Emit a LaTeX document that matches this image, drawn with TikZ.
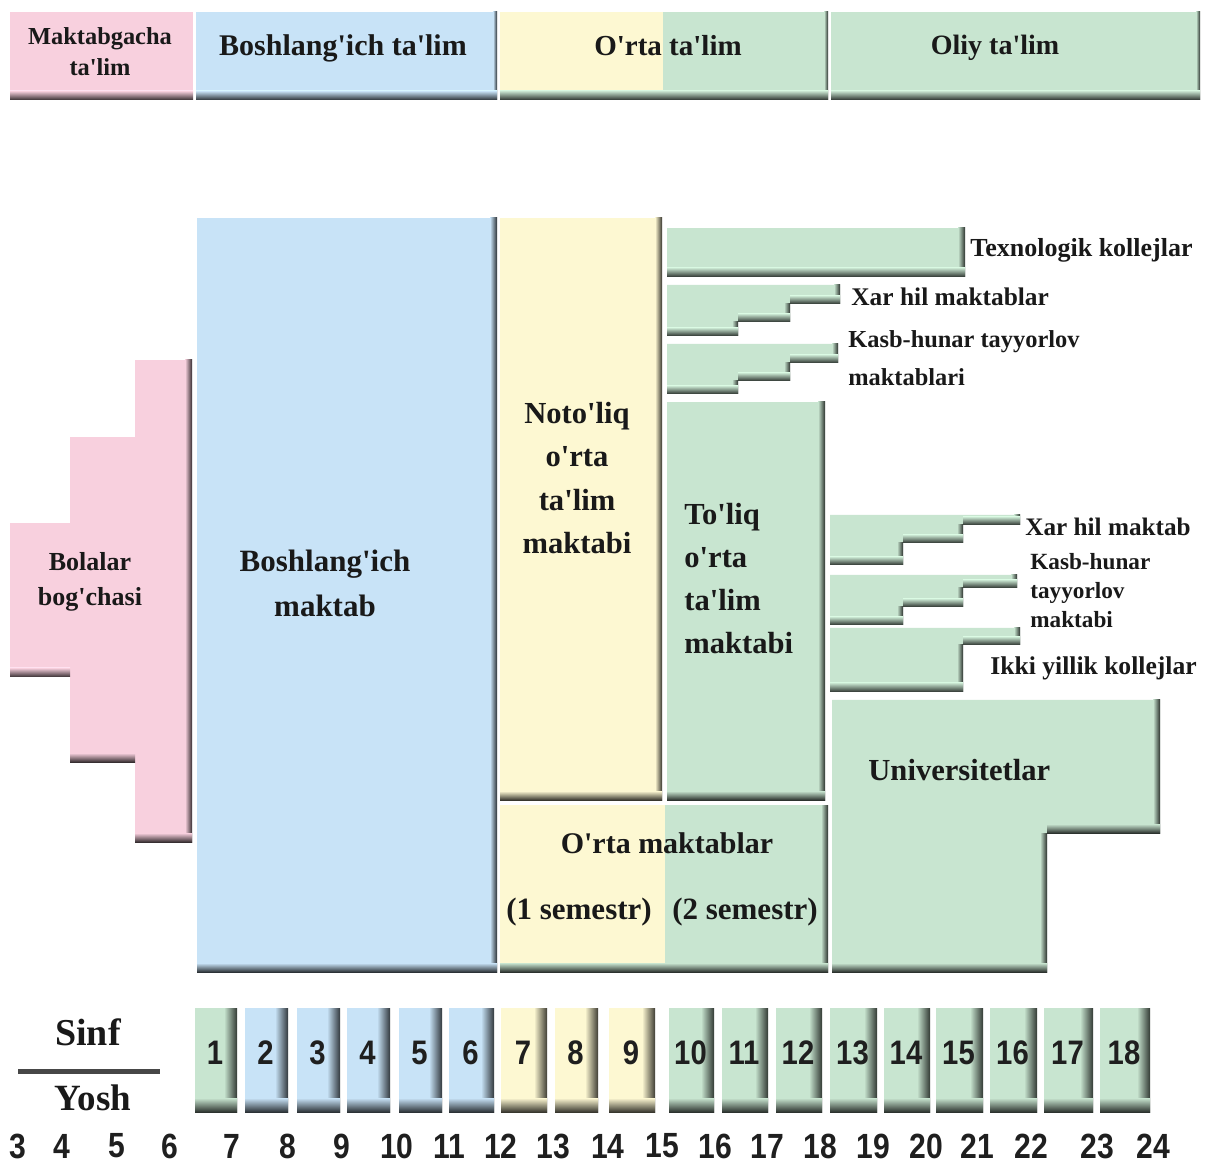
\documentclass[tikz,border=0pt]{standalone}
\usepackage{fontspec}
\setmainfont{Liberation Serif}[Ligatures=TeXOff]
\newfontfamily\numfont{Liberation Sans}[FakeStretch=0.86]
\definecolor{cpink}{HTML}{F8D0DE}
\definecolor{cblue}{HTML}{C8E3F7}
\definecolor{cyel}{HTML}{FDF8D2}
\definecolor{cgrn}{HTML}{C8E5D0}
% right strip: x, y1, y2, colour, width
\newcommand\rs[5]{\shade[left color=#4, right color=#4!22!black] (#1-#5,#2) rectangle (#1,#3);}
% bottom strip: x1, x2, y, colour, height
\newcommand\bs[5]{\shade[top color=#4, bottom color=#4!22!black] (#1,#3-#5) rectangle (#2,#3);}
% plain bevelled box
\newcommand\bbox[5]{\fill[#5] (#1,#2) rectangle (#3,#4);\rs{#3}{#2}{#4}{#5}{7}\bs{#1}{#3}{#4}{#5}{9}}
% three-step staircase
\newcommand\stairs[8]{%
 \fill[cgrn] (#1,#2) -| (#3,#4) -| (#5,#6) -| (#7,#8) -| (#1,#2) -- cycle;
 \rs{#3}{#2}{#4}{cgrn}{6}\bs{#5}{#3}{#4}{cgrn}{8}%
 \rs{#5}{#4}{#6}{cgrn}{6}\bs{#7}{#5}{#6}{cgrn}{8}%
 \rs{#7}{#6}{#8}{cgrn}{6}\bs{#1}{#7}{#8}{cgrn}{8}}
\begin{document}
\begin{tikzpicture}[x=0.5pt,y=-0.5pt,
  txt/.style={inner sep=0pt, text=black!90},
  gnum/.style={inner sep=0pt, font=\numfont\bfseries\fontsize{17}{17}\selectfont, text=black!88},
  anum/.style={inner sep=0pt, font=\numfont\bfseries\fontsize{17.5}{17.5}\selectfont, text=black!88}]
\useasboundingbox (0,0) rectangle (1206,1171);
\fill[white] (0,0) rectangle (1206,1171);

% ---------- header ----------
\fill[cpink] (10,12) rectangle (193,100); \bs{10}{193}{100}{cpink}{9}
\fill[cblue] (196,12) rectangle (497,100); \rs{497}{12}{100}{cblue}{4}\bs{196}{497}{100}{cblue}{9}
\fill[cyel] (500,12) rectangle (663,100);
\fill[cgrn] (663,12) rectangle (828,100); \rs{828}{12}{100}{cgrn}{4}\bs{500}{828}{100}{cgrn}{9}
\fill[cgrn] (831,12) rectangle (1200,100); \rs{1200}{12}{100}{cgrn}{4}\bs{831}{1200}{100}{cgrn}{9}

\node[txt, align=center, font=\bfseries\fontsize{12.2}{15.5}\selectfont] (h1) at (100,52) {Maktabgacha\\ta'lim};
\node[txt, font=\bfseries\fontsize{15}{18}\selectfont] (h2) at (343,48) {Boshlang'ich ta'lim};
\node[txt, font=\bfseries\fontsize{14.5}{18}\selectfont] (h3) at (668,46) {O'rta ta'lim};
\node[txt, font=\bfseries\fontsize{14}{18}\selectfont] (h4) at (995,48) {Oliy ta'lim};

% ---------- kindergarten ----------
\fill[cpink] (10,523) rectangle (72,677);
\fill[cpink] (70,437) rectangle (137,762);
\fill[cpink] (135,360) rectangle (192,842);
\bs{10}{70}{677}{cpink}{9}
\bs{70}{135}{762}{cpink}{9}
\rs{192}{360}{842}{cpink}{7}
\bs{135}{192}{842}{cpink}{9}
\node[txt, align=center, font=\bfseries\fontsize{13}{17.5}\selectfont] (bog) at (90,582) {Bolalar\\bog'chasi};

% ---------- primary school ----------
\bbox{197}{218}{497}{972}{cblue}
\node[txt, align=center, font=\bfseries\fontsize{15.5}{22.5}\selectfont] (bosh) at (325,583) {Boshlang'ich\\maktab};

% ---------- incomplete secondary ----------
\bbox{500}{218}{662}{800}{cyel}
\node[txt, align=center, font=\bfseries\fontsize{15.3}{21.75}\selectfont] (noto) at (577,478) {Noto'liq\\o'rta\\ta'lim\\maktabi};

% ---------- complete secondary ----------
\bbox{667}{402}{825}{800}{cgrn}
\node[txt, align=left, anchor=west, font=\bfseries\fontsize{15.3}{21.5}\selectfont] (toliq) at (684,579) {To'liq\\o'rta\\ta'lim\\maktabi};

% ---------- middle schools ----------
\fill[cyel] (500,805) rectangle (665,972);
\fill[cgrn] (665,805) rectangle (828,972);
\rs{828}{805}{972}{cgrn}{7}\bs{500}{828}{972}{cgrn}{9}
\node[txt, font=\bfseries\fontsize{15}{18}\selectfont] (om) at (667,843) {O'rta maktablar};
\node[txt, font=\bfseries\fontsize{15.5}{18}\selectfont] (s1) at (579,912) {(1 semestr)};
\node[txt, font=\bfseries\fontsize{15.5}{18}\selectfont] (s2) at (745,912) {(2 semestr)};

% ---------- upper right branches ----------
\bbox{667}{228}{965}{277}{cgrn}
\stairs{667}{285}{840}{304}{790}{322}{738}{336}
\stairs{667}{344}{838}{363}{790}{381}{738}{394}
\node[txt, anchor=west, font=\bfseries\fontsize{13}{16}\selectfont] (tex) at (970,250) {Texnologik kollejlar};
\node[txt, anchor=west, font=\bfseries\fontsize{12.7}{16}\selectfont] (xar1) at (851,297) {Xar hil maktablar};
\node[txt, anchor=west, align=left, font=\bfseries\fontsize{12.2}{19}\selectfont] (kasb1) at (848,358) {Kasb-hunar tayyorlov\\maktablari};

% ---------- lower right branches ----------
\stairs{830}{515}{1020}{525}{963}{543}{903}{565}
\stairs{830}{575}{1017}{588}{963}{607}{903}{625}
\fill[cgrn] (830,628) -| (1020,645) -| (963,692) -| (830,628) -- cycle;
\rs{1020}{628}{645}{cgrn}{6}\bs{963}{1020}{645}{cgrn}{8}
\rs{963}{645}{692}{cgrn}{6}\bs{830}{963}{692}{cgrn}{9}
\node[txt, anchor=west, font=\bfseries\fontsize{12.6}{16}\selectfont] (xar2) at (1025,527) {Xar hil maktab};
\node[txt, anchor=west, align=left, font=\bfseries\fontsize{11.6}{14.5}\selectfont] (kasb2) at (1030,591) {Kasb-hunar\\tayyorlov\\maktabi};
\node[txt, anchor=west, font=\bfseries\fontsize{12.8}{16}\selectfont] (ikki) at (990,668) {Ikki yillik kollejlar};

% ---------- universities ----------
\fill[cgrn] (832,700) -| (1160,833) -| (1047,972) -| (832,700) -- cycle;
\rs{1160}{700}{833}{cgrn}{7}\bs{1047}{1160}{833}{cgrn}{9}
\rs{1047}{833}{972}{cgrn}{7}\bs{832}{1047}{972}{cgrn}{9}
\node[txt, anchor=west, font=\bfseries\fontsize{15.3}{18}\selectfont] (univ) at (868,770) {Universitetlar};

% ---------- Sinf / Yosh ----------
\node[txt, font=\bfseries\fontsize{19}{20}\selectfont] (sinf) at (88,1032) {Sinf};
\coordinate (ls) at (18,1071);
\coordinate (le) at (160,1071);
\draw[line width=2.5pt, black!72] (ls) -- (le);
\node[txt, font=\bfseries\fontsize{18.5}{20}\selectfont] (yosh) at (93,1098) {Yosh};

% ---------- grade boxes ----------
\foreach \n/\a/\b/\c in {1/195/237/cgrn, 2/245/288/cblue, 3/297/340/cblue, 4/347/390/cblue,
   5/399/442/cblue, 6/449/494/cblue, 7/501/547/cyel, 8/555/598/cyel, 9/609/655/cyel,
   10/669/714/cgrn, 11/722/768/cgrn, 12/776/822/cgrn, 13/830/877/cgrn, 14/884/930/cgrn,
   15/936/983/cgrn, 16/990/1037/cgrn, 17/1044/1093/cgrn, 18/1100/1150/cgrn}{
  \fill[\c] (\a,1008) rectangle (\b,1112);
  \shade[left color=\c, right color=\c!25!black] (\b-13,1008) rectangle (\b,1112);
  \shade[top color=\c, bottom color=\c!22!black] (\a,1098) rectangle (\b,1112);
  \node[gnum] (g\n) at ({(\a+\b)/2-1},1053) {\n};
}

% ---------- ages ----------
\foreach \n/\x in {3/18, 4/62, 5/117, 6/170, 7/232, 8/288, 9/342, 10/397, 11/449, 12/501,
   13/553, 14/608, 15/662, 16/715, 17/767, 18/820, 19/873, 20/926, 21/977, 22/1031,
   23/1097, 24/1153}{
  \node[anum] (a\n) at (\x,1146) {\n};
}
\end{tikzpicture}
\end{document}
